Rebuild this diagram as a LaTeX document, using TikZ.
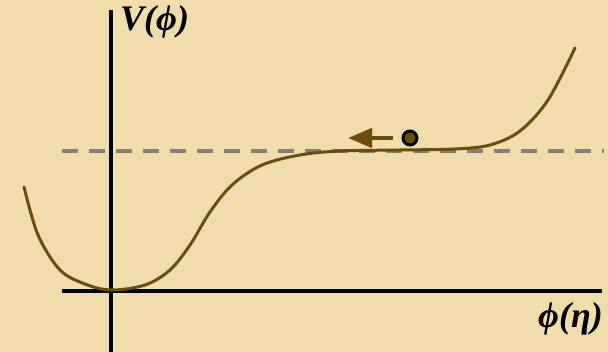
\documentclass[tikz,border=0pt]{standalone}
\usepackage{fontspec}
\setmainfont{Liberation Serif}
\usetikzlibrary{arrows.meta}
\definecolor{bg}{HTML}{F0DDAC}
\definecolor{curvec}{HTML}{6B4E0E}
\definecolor{dashc}{HTML}{858075}
\tikzset{
  axis/.style={line width=3.2pt, black},
  lbl/.style={font=\fontsize{36}{40}\selectfont\bfseries\itshape, inner sep=0pt},
}
\begin{document}
\begin{tikzpicture}[x=1pt,y=-1pt]
\fill[bg] (0,0) rectangle (608,352);
\useasboundingbox (0,0) rectangle (608,352);
% dashed level
\coordinate (dl) at (62,151);
\coordinate (dr) at (604,151);
\draw[dashc, line width=3.5pt, dash pattern=on 16pt off 11pt] (dl) -- (dr);
% axes
\coordinate (vb) at (111,352);
\coordinate (vt) at (111,10);
\coordinate (hl) at (62,291);
\coordinate (hr) at (602,291);
\draw[axis] (vb) -- (vt);
\draw[axis] (hl) -- (hr);
% potential curve
\draw[curvec, line width=3pt, line cap=round] plot[smooth, tension=0.55] coordinates {
 (24,187) (38,235) (60,270) (85,284) (111,290) (145,285) (170,270) (190,245) (210,212) (232,185) (262,165) (300,155) (340,151) (400,150) (455,149) (490,145) (520,131) (548,100) (575,48)};
% ball and arrow
\node[circle, draw=black, line width=3pt, fill=curvec, minimum size=14pt, inner sep=0pt] (ball) at (410,138) {};
\coordinate (atip) at (348,138);
\draw[curvec, line width=4.5pt, -{Triangle[length=24pt,width=19pt]}] (393,138) -- (atip);
% labels
\node[lbl, anchor=north west] (V) at (120,5) {V(ϕ)};
\node[lbl, anchor=north east] (P) at (603,302) {ϕ(η)};
\end{tikzpicture}
\end{document}
